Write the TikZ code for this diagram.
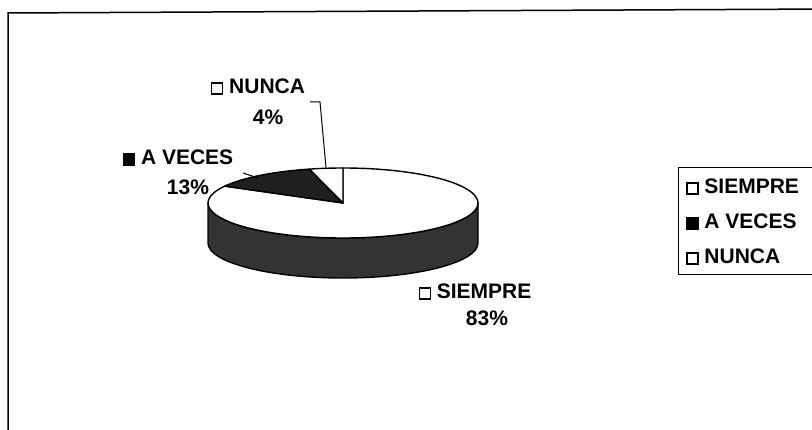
\documentclass[tikz,border=0pt]{standalone}
\usepackage{fontspec}
\setmainfont{Liberation Sans}
\newcommand{\keysq}[1]{\tikz[baseline=0pt]\draw[line width=1.4pt,fill=#1] (0,0) rectangle (11pt,11pt);}

\begin{document}
\begin{tikzpicture}[x=1pt,y=1pt,
  lbl/.style={font=\fontsize{21}{24}\selectfont\bfseries,inner sep=0pt},
  pie/.style={line width=1.4pt,line join=round}]
\useasboundingbox (0,0) rectangle (812,-430);
\clip (0,0) rectangle (812,-430);
% frame
\draw[line width=1.5pt] (8,-460) -- (8,-13) -- (830,-9);
% pie
\coordinate (c) at (343,-203);
\draw[pie,fill=black!80] (208,-203) -- (208,-243) arc[start angle=180,end angle=360,x radius=135,y radius=35] -- (478,-203) arc[start angle=0,end angle=-180,x radius=135,y radius=35] -- cycle;
\draw[pie,fill=white] (c) -- ++(151.2:135 and 35) arc[start angle=151.2,end angle=450,x radius=135,y radius=35] -- cycle;
\draw[pie,fill=black!88] (c) -- ++(104.4:135 and 35) arc[start angle=104.4,end angle=151.2,x radius=135,y radius=35] -- cycle;
\draw[pie,fill=white] (c) -- ++(90:135 and 35) arc[start angle=90,end angle=104.4,x radius=135,y radius=35] -- cycle;
% labels
\node[lbl] (nunca)    at (258,-87)  {\keysq{white} NUNCA};
\node[lbl] (nuncap)   at (268,-117) {4\%};
\node[lbl] (aveces)   at (178,-158) {\keysq{black} A VECES};
\node[lbl] (avecesp)  at (188,-187) {13\%};
\node[lbl] (siempre)  at (475,-292) {\keysq{white} SIEMPRE};
\node[lbl] (siemprep) at (487,-318) {83\%};
% leaders
\coordinate (nk) at (310,-102);
\coordinate (nt) at ([shift={(97.2:135 and 35)}]c);
\draw[line width=1pt] (nk) -- (320,-102) -- (nt);
\coordinate (ak) at (243,-173);
\coordinate (at) at (258,-178);
\draw[line width=1pt] (ak) -- (at);
% legend
\draw[line width=1pt] (678,-168) rectangle (840,-275);
\node[lbl,anchor=west] (lsiempre) at (686,-187) {\keysq{white} SIEMPRE};
\node[lbl,anchor=west] (laveces)  at (686,-222) {\keysq{black} A VECES};
\node[lbl,anchor=west] (lnunca)   at (686,-257) {\keysq{white} NUNCA};
\end{tikzpicture}
\end{document}
